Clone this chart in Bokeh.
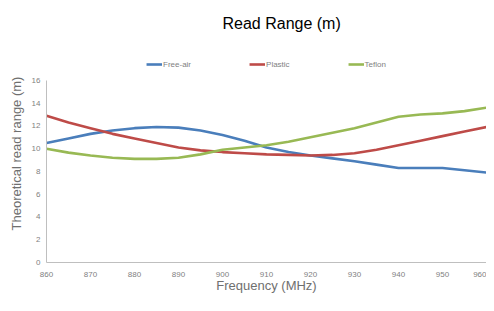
from bokeh.plotting import figure
from bokeh.models import Range1d, Legend, LegendItem, FixedTicker
from bokeh.embed import file_html
from bokeh.resources import INLINE

freq = [860, 865, 870, 875, 880, 885, 890, 895, 900, 905, 910, 915, 920, 925, 930, 935, 940, 945, 950, 955, 960]
free_air = [10.5, 10.9, 11.3, 11.6, 11.8, 11.9, 11.85, 11.6, 11.2, 10.7, 10.1, 9.7, 9.4, 9.15, 8.9, 8.6, 8.3, 8.3, 8.3, 8.1, 7.9]
plastic = [12.9, 12.3, 11.8, 11.3, 10.9, 10.5, 10.1, 9.85, 9.7, 9.6, 9.5, 9.45, 9.4, 9.45, 9.6, 9.9, 10.3, 10.7, 11.1, 11.5, 11.9]
teflon = [10.0, 9.65, 9.4, 9.2, 9.1, 9.1, 9.2, 9.5, 9.9, 10.1, 10.3, 10.6, 11.0, 11.4, 11.8, 12.3, 12.8, 13.0, 13.1, 13.3, 13.6]
series_names = ["Free-air", "Plastic", "Teflon"]
x_ticks = [860, 870, 880, 890, 900, 910, 920, 930, 940, 950, 960]
y_ticks = [0, 2, 4, 6, 8, 10, 12, 14, 16]

colors = ["#4a7ebb", "#be4b48", "#98b954"]
FONT = "Liberation Sans"
GRAY = "#7f7f7f"

p = figure(width=486, height=295, output_backend="svg", toolbar_location=None,
           x_range=Range1d(860, 960), y_range=Range1d(0, 19.15),
           min_border_left=46, min_border_right=0, min_border_top=40, min_border_bottom=30,
           title="Read Range (m)")
p.outline_line_color = None
p.xgrid.visible = False
p.ygrid.visible = False

p.title.align = "left"
p.title.offset = 176
p.title.text_font = FONT
p.title.text_font_size = "16px"
p.title.text_font_style = "normal"
p.title.text_color = "#000000"
p.title.standoff = 25

renderers = []
for ys, c in zip([free_air, plastic, teflon], colors):
    r = p.line(freq, ys, line_color=c, line_width=2.6)
    renderers.append(r)

for ax in (p.xaxis[0], p.yaxis[0]):
    ax.axis_line_color = "#bfbfbf"
    ax.major_tick_line_color = None
    ax.minor_tick_line_color = None
    ax.major_tick_out = 0
    ax.major_tick_in = 0
    ax.minor_tick_out = 0
    ax.minor_tick_in = 0
    ax.major_label_text_font = FONT
    ax.major_label_text_font_size = "8px"
    ax.major_label_text_color = GRAY
    ax.axis_label_text_font = FONT
    ax.axis_label_text_font_size = "13px"
    ax.axis_label_text_font_style = "normal"
    ax.axis_label_text_color = "#6f6f6f"

p.xaxis.ticker = FixedTicker(ticks=x_ticks)
p.yaxis.ticker = FixedTicker(ticks=y_ticks)
p.yaxis.bounds = (0, 16)
p.xaxis.axis_label = "Frequency (MHz)"
p.yaxis.axis_label = "Theoretical read range (m)"
p.xaxis.major_label_standoff = 9
p.yaxis.major_label_standoff = 6
p.xaxis.axis_label_standoff = -2
p.yaxis.axis_label_standoff = 5

legend = Legend(items=[LegendItem(label=n, renderers=[r]) for n, r in zip(series_names, renderers)],
                orientation="horizontal", location="top_center",
                label_text_font=FONT, label_text_font_size="8px", label_text_color=GRAY,
                glyph_width=16, glyph_height=10, label_standoff=1, spacing=58,
                padding=0, margin=15, border_line_color=None, background_fill_alpha=0,
                label_height=10)
p.add_layout(legend, "center")

open("out.html", "w").write(file_html(p, INLINE))
